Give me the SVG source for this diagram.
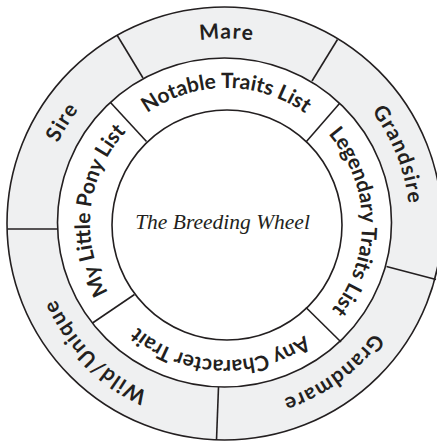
<svg xmlns="http://www.w3.org/2000/svg" xmlns:xlink="http://www.w3.org/1999/xlink" width="437" height="443" viewBox="0 0 437 443">
  <style>
    .ln { stroke: #231f20; stroke-width: 1.6; fill: none; }
    .outer { font-family: Lato, "Open Sans", sans-serif; font-weight: 700; font-size: 21px; letter-spacing: 1.2px; fill: #231f20; }
    .inner { font-family: Lato, "Open Sans", sans-serif; font-weight: 700; font-size: 21px; fill: #231f20; }
    .title { font-family: "Liberation Serif", "DejaVu Serif", serif; font-style: italic; font-size: 21.5px; fill: #231f20; }
  </style>
  <defs>
    <path id="outerA" d="M 409.5,223.5 A 185 185 0 1 1 39.5,223.5 A 185 185 0 1 1 409.5,223.5"/>
    <path id="outerB" d="M 39.5,223.5 A 185 185 0 1 1 409.5,223.5 A 185 185 0 1 1 39.5,223.5"/>
    <path id="innerA" d="M 362,224 A 136 136 0 1 1 90,224 A 136 136 0 1 1 362,224"/>
    <path id="innerB" d="M 90,224 A 136 136 0 1 1 362,224 A 136 136 0 1 1 90,224"/>
  </defs>
  <rect width="437" height="443" fill="#ffffff"/>
  <g id="rings">
    <ellipse cx="224.5" cy="223.5" rx="217.5" ry="216.5" fill="#eff0f1"/>
    <ellipse cx="224.5" cy="222.5" rx="167" ry="164.5" fill="#ffffff"/>
    <circle cx="227" cy="225" r="115" fill="#ffffff"/>
  </g>
  <g id="connectors">
    <line class="ln" x1="117" y1="35" x2="143" y2="78"/>
    <line class="ln" x1="337.5" y1="39.5" x2="312" y2="81"/>
    <line class="ln" x1="386.5" y1="266.5" x2="436" y2="279.5"/>
    <line class="ln" x1="218.5" y1="387" x2="216.5" y2="440"/>
    <line class="ln" x1="7.5" y1="229" x2="57.5" y2="229"/>
    <line class="ln" x1="110.5" y1="102.5" x2="146.5" y2="141.5"/>
    <line class="ln" x1="339.5" y1="103.5" x2="306" y2="142"/>
    <line class="ln" x1="306" y1="307.5" x2="341" y2="342"/>
    <line class="ln" x1="134.5" y1="294.5" x2="92.5" y2="323"/>
  </g>
  <g id="ring-strokes">
    <ellipse class="ln" cx="224.5" cy="223.5" rx="217.5" ry="216.5"/>
    <ellipse class="ln" cx="224.5" cy="222.5" rx="167" ry="164.5"/>
    <circle class="ln" cx="227" cy="225" r="115"/>
  </g>
  <g id="mare"><text class="outer" text-anchor="middle"><textPath xlink:href="#outerA" href="#outerA" startOffset="75.17%">Mare</textPath></text></g>
  <g id="grandsire"><text class="outer" text-anchor="middle"><textPath xlink:href="#outerB" href="#outerB" startOffset="44%">Grandsire</textPath></text></g>
  <g id="grandmare"><text class="outer" text-anchor="middle"><textPath xlink:href="#outerA" href="#outerA" startOffset="15%">Grandmare</textPath></text></g>
  <g id="wild-unique"><text class="outer" text-anchor="middle"><textPath xlink:href="#outerA" href="#outerA" startOffset="37.58%">Wild/Unique</textPath></text></g>
  <g id="sire"><text class="outer" text-anchor="middle"><textPath xlink:href="#outerA" href="#outerA" startOffset="58.9%">Sire</textPath></text></g>
  <g id="notable"><text class="inner" text-anchor="middle"><textPath xlink:href="#innerA" href="#innerA" startOffset="75.03%">Notable Traits List</textPath></text></g>
  <g id="legendary"><text class="inner" text-anchor="middle"><textPath xlink:href="#innerB" href="#innerB" startOffset="49.67%">Legendary Traits List</textPath></text></g>
  <g id="any-character"><text class="inner" text-anchor="middle"><textPath xlink:href="#innerA" href="#innerA" startOffset="25.75%">Any Character Trait</textPath></text></g>
  <g id="my-little-pony"><text class="inner" text-anchor="middle"><textPath xlink:href="#innerA" href="#innerA" startOffset="51.75%">My Little Pony List</textPath></text></g>
  <g id="center"><text class="title" x="222.5" y="229" text-anchor="middle">The Breeding Wheel</text></g>
</svg>
